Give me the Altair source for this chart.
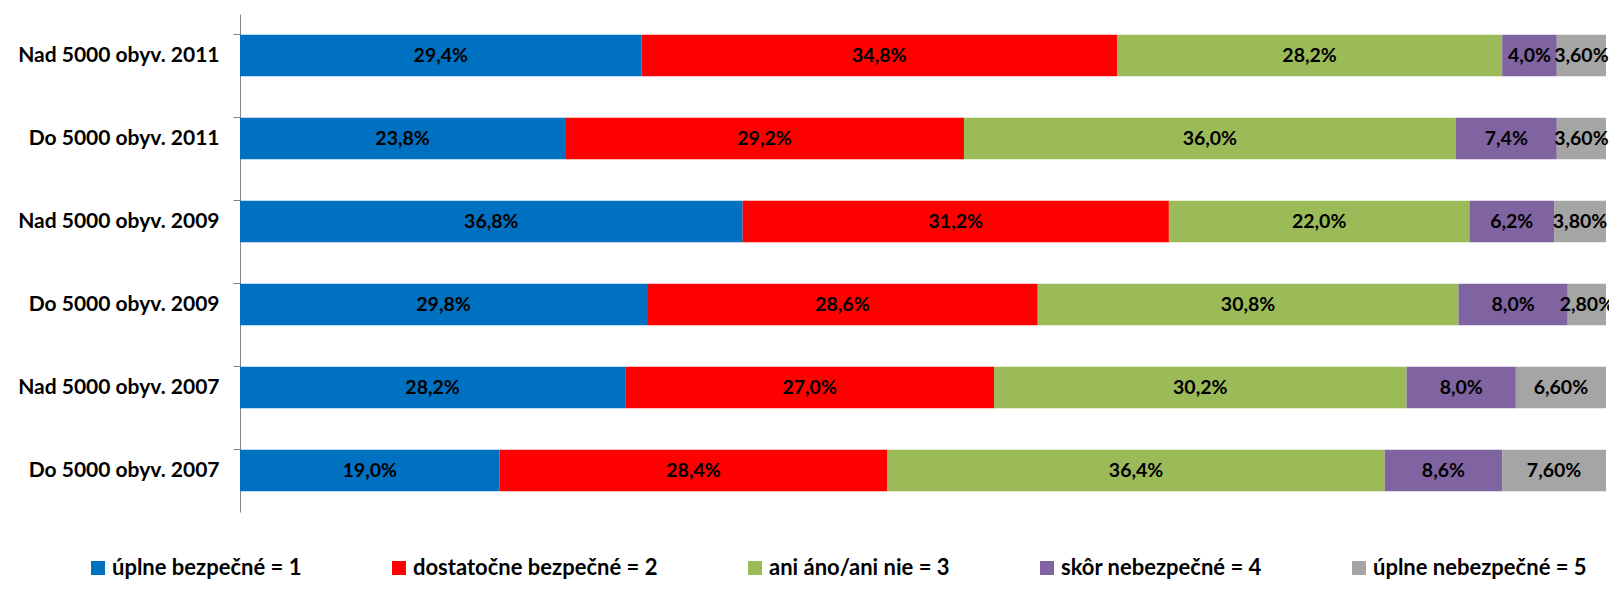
import altair as alt
import pandas as pd

categories = ["Nad 5000 obyv. 2011", "Do 5000 obyv. 2011", "Nad 5000 obyv. 2009",
              "Do 5000 obyv. 2009", "Nad 5000 obyv. 2007", "Do 5000 obyv. 2007"]
series = ["úplne bezpečné = 1", "dostatočne bezpečné = 2", "ani áno/ani nie = 3",
          "skôr nebezpečné = 4", "úplne nebezpečné = 5"]
colors = ["#0070C0", "#FF0000", "#9BBB59", "#8064A2", "#A5A5A5"]

s1 = [29.4, 23.8, 36.8, 29.8, 28.2, 19.0]
s2 = [34.8, 29.2, 31.2, 28.6, 27.0, 28.4]
s3 = [28.2, 36.0, 22.0, 30.8, 30.2, 36.4]
s4 = [4.0, 7.4, 6.2, 8.0, 8.0, 8.6]
s5 = [3.6, 3.6, 3.8, 2.8, 6.6, 7.6]
decimals = [1, 1, 1, 1, 2]

rows = []
for si, (name, vals) in enumerate(zip(series, [s1, s2, s3, s4, s5])):
    for c, v in zip(categories, vals):
        lab = f"{v:.{decimals[si]}f}%".replace(".", ",")
        rows.append({"cat": c, "series": name, "order": si, "value": v, "label": lab})
df = pd.DataFrame(rows)

FONT = "Lato"

base = alt.Chart(df).transform_stack(
    stack="value", groupby=["cat"], as_=["x0", "x1"],
    sort=[alt.SortField("order", order="ascending")]
).transform_calculate(mid="(datum.x0 + datum.x1) / 2")

y = alt.Y("cat:N", sort=categories, title=None,
          scale=alt.Scale(paddingInner=0.5, paddingOuter=0.25),
          axis=alt.Axis(labelFont=FONT, labelFontSize=21, labelFontWeight="bold",
                        labelColor="#000000", labelPadding=14, domainColor="#868686",
                        tickColor="#868686", tickSize=7, bandPosition=0,
                        labelLimit=400))

bars = base.mark_bar().encode(
    x=alt.X("x0:Q", scale=alt.Scale(domain=[0, 100], nice=False), axis=None),
    x2="x1:Q",
    y=y,
    color=alt.Color("series:N", sort=series,
                    scale=alt.Scale(domain=series, range=colors),
                    legend=alt.Legend(title=None, orient="none", direction="horizontal",
                                      legendX=-153, legendY=543, columns=5,
                                      columnPadding=86, symbolType="square",
                                      symbolSize=196, symbolStrokeWidth=0,
                                      symbolOpacity=1, labelOffset=3,
                                      labelFont=FONT, labelFontSize=22,
                                      labelFontWeight="bold", labelColor="#000000",
                                      labelLimit=400)),
)

text = base.mark_text(font=FONT, fontSize=19.5, fontWeight="bold", color="#000000").encode(
    x=alt.X("mid:Q"),
    y=alt.Y("cat:N", sort=categories),
    text="label:N",
)

chart = (bars + text).properties(
    width=1366, height=498,
    autosize=alt.AutoSizeParams(type="none"),
    padding={"left": 232, "top": 6, "right": 3, "bottom": 69},
).configure_view(stroke=None)

chart.save("out.html", embed_options={"renderer": "svg", "actions": False})
